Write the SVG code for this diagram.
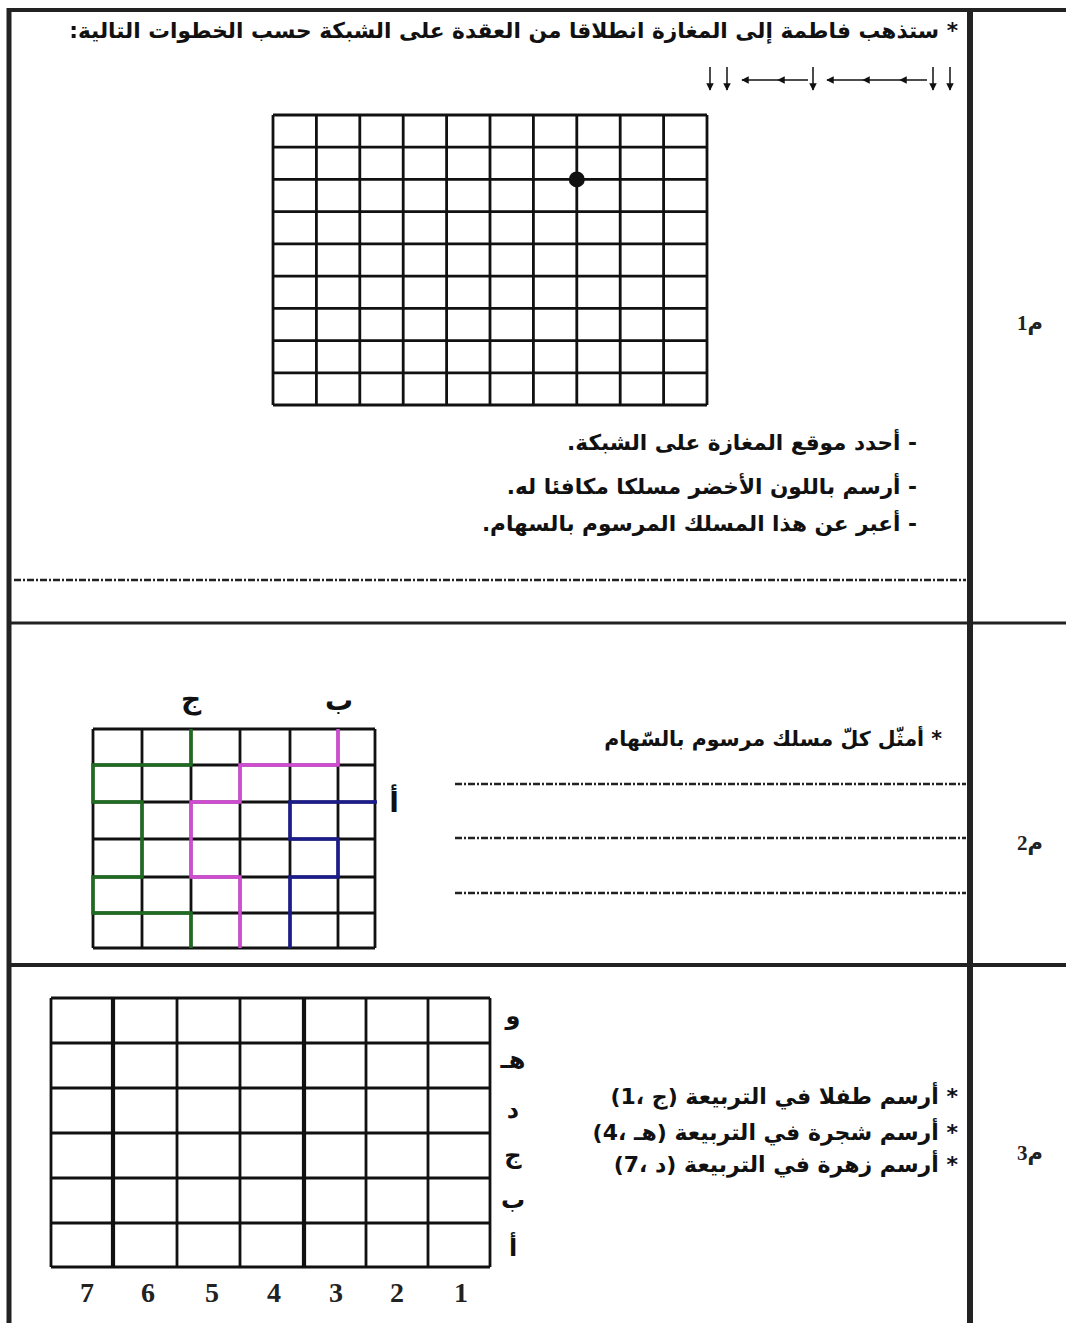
<svg xmlns="http://www.w3.org/2000/svg" width="1066" height="1323" viewBox="0 0 1066 1323">
<style>
.ar{font-family:"DejaVu Sans",sans-serif;font-weight:bold;fill:#111;direction:rtl;text-anchor:start}
.lbl{font-family:"DejaVu Sans",sans-serif;font-weight:bold;fill:#111;text-anchor:middle}
.num{font-family:"Liberation Serif",serif;font-weight:bold;fill:#222;text-anchor:middle;font-size:28px}
.mk{font-family:"Liberation Serif","DejaVu Sans",serif;font-weight:bold;fill:#222;font-size:21px;direction:rtl;text-anchor:middle}
.frame{stroke:#222;fill:none}
.g{stroke:#111;stroke-width:2.8;fill:none}
.dots{stroke:#222;stroke-width:2.4;stroke-dasharray:7 2 2 2;fill:none}
.arr{stroke:#111;stroke-width:1.5;fill:none}
.green{stroke:#1f6b22;stroke-width:3.5;fill:none}
.pink{stroke:#d14cd3;stroke-width:3.5;fill:none}
.blue{stroke:#1c1c8c;stroke-width:3.5;fill:none}
</style>
<defs>
<marker id="ah" viewBox="0 0 10 10" refX="9" refY="5" markerWidth="5" markerHeight="5" orient="auto"><path d="M0,0 L10,5 L0,10 z" fill="#111"/></marker>
</defs>
<rect width="1066" height="1323" fill="#fff"/>

<g id="frame">
<line class="frame" x1="9" y1="10" x2="1066" y2="10" stroke-width="4"/>
<line class="frame" x1="9" y1="8" x2="9" y2="1323" stroke-width="5"/>
<line class="frame" x1="970" y1="8" x2="970" y2="1323" stroke-width="6"/>
<line class="frame" x1="9" y1="623" x2="1066" y2="623" stroke-width="3"/>
<line class="frame" x1="9" y1="965" x2="1066" y2="965" stroke-width="4"/>
</g>

<g id="col-labels">
<text class="mk" x="1030" y="330">م1</text>
<text class="mk" x="1030" y="850">م2</text>
<text class="mk" x="1030" y="1160">م3</text>
</g>

<g id="section1">
<text class="ar" x="958" y="38" font-size="21.7">* ستذهب فاطمة إلى المغازة انطلاقا من العقدة على الشبكة حسب الخطوات التالية:</text>
<g id="steps">
<line class="arr" x1="950" y1="67" x2="950" y2="90" marker-end="url(#ah)"/>
<line class="arr" x1="933" y1="67" x2="933" y2="90" marker-end="url(#ah)"/>
<line class="arr" x1="927" y1="80" x2="900" y2="80" marker-end="url(#ah)"/>
<line class="arr" x1="900" y1="80" x2="863" y2="80" marker-end="url(#ah)"/>
<line class="arr" x1="863" y1="80" x2="827" y2="80" marker-end="url(#ah)"/>
<line class="arr" x1="813" y1="67" x2="813" y2="90" marker-end="url(#ah)"/>
<line class="arr" x1="808" y1="80" x2="778" y2="80" marker-end="url(#ah)"/>
<line class="arr" x1="778" y1="80" x2="742" y2="80" marker-end="url(#ah)"/>
<line class="arr" x1="727" y1="67" x2="727" y2="90" marker-end="url(#ah)"/>
<line class="arr" x1="710" y1="67" x2="710" y2="90" marker-end="url(#ah)"/>
</g>
<g id="grid1" class="g">
<path d="M273,115V405M316.4,115V405M359.8,115V405M403.2,115V405M446.6,115V405M490,115V405M533.4,115V405M576.8,115V405M620.2,115V405M663.6,115V405M707,115V405"/>
<path d="M273,115H707M273,147.2H707M273,179.4H707M273,211.7H707M273,243.9H707M273,276.1H707M273,308.3H707M273,340.6H707M273,372.8H707M273,405H707"/>
</g>
<circle id="node-start" cx="576.8" cy="179.4" r="8" fill="#111"/>
<text class="ar" x="917" y="450" font-size="21.6">- أحدد موقع المغازة على الشبكة.</text>
<text class="ar" x="917" y="494" font-size="21.6">- أرسم باللون الأخضر مسلكا مكافئا له.</text>
<text class="ar" x="917" y="531" font-size="21.6">- أعبر عن هذا المسلك المرسوم بالسهام.</text>
<line class="dots" x1="14" y1="580" x2="966" y2="580"/>
</g>

<g id="section2">
<g id="grid2" class="g">
<path d="M93,729V948M142,729V948M191,729V948M240,729V948M290,729V948M338,729V948M375,729V948"/>
<path d="M93,729H375M93,765H375M93,802H375M93,839H375M93,877H375M93,913H375M93,948H375"/>
</g>
<g id="paths2">
<path class="green" d="M191,729V765H93V802H142V877H93V913H191V948"/>
<path class="pink" d="M338,729V765H240V802H191V877H240V948"/>
<path class="blue" d="M377,802H290V839H338V877H290V948"/>
</g>
<text class="lbl" x="191" y="708" font-size="28">ج</text>
<text class="lbl" x="339" y="710" font-size="28">ب</text>
<text class="lbl" x="394" y="812" font-size="28">أ</text>
<text class="ar" x="942" y="746" font-size="20.5">* أمثّل كلّ مسلك مرسوم بالسّهام</text>
<line class="dots" x1="455" y1="784" x2="966" y2="784"/>
<line class="dots" x1="455" y1="838" x2="966" y2="838"/>
<line class="dots" x1="455" y1="893" x2="966" y2="893"/>
</g>

<g id="section3">
<g id="grid3" class="g" stroke-width="3">
<path d="M51,998V1267M177,998V1267M240,998V1267M366,998V1267M428,998V1267M490,998V1267"/>
<path d="M113,998V1267M304,998V1267" stroke-width="4.2"/>
<path d="M51,998H490M51,1043H490M51,1088H490M51,1133H490M51,1178H490M51,1223H490M51,1267H490"/>
</g>
<g id="rowlabels">
<text class="lbl" x="513" y="1024" font-size="24">و</text>
<text class="lbl" x="513" y="1068" font-size="24">هـ</text>
<text class="lbl" x="513" y="1118" font-size="24">د</text>
<text class="lbl" x="513" y="1163" font-size="24">ج</text>
<text class="lbl" x="513" y="1208" font-size="24">ب</text>
<text class="lbl" x="513" y="1256" font-size="24">أ</text>
</g>
<g id="collabels">
<text class="num" x="87" y="1302">7</text>
<text class="num" x="148" y="1302">6</text>
<text class="num" x="212" y="1302">5</text>
<text class="num" x="274" y="1302">4</text>
<text class="num" x="336" y="1302">3</text>
<text class="num" x="397" y="1302">2</text>
<text class="num" x="461" y="1302">1</text>
</g>
<text class="ar" x="958" y="1104" font-size="22">* أرسم طفلا في التربيعة (ج ،1)</text>
<text class="ar" x="958" y="1140" font-size="22">* أرسم شجرة في التربيعة (هـ ،4)</text>
<text class="ar" x="958" y="1172" font-size="22">* أرسم زهرة في التربيعة (د ،7)</text>
</g>
</svg>
